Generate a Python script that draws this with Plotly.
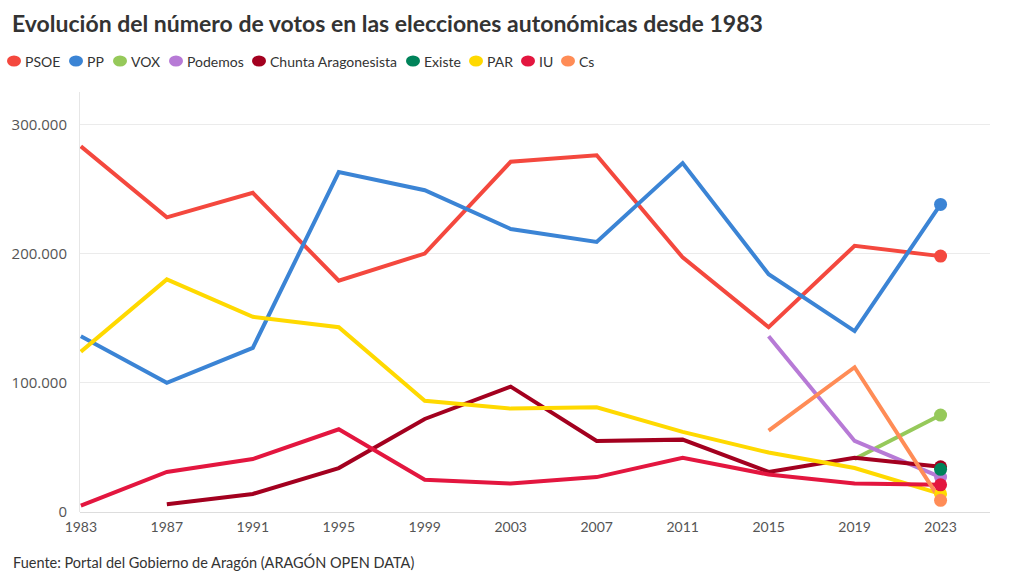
import plotly.graph_objects as go

years = [1983, 1987, 1991, 1995, 1999, 2003, 2007, 2011, 2015, 2019, 2023]

psoe = [283000, 228000, 247000, 179000, 200000, 271000, 276000, 197000, 143000, 206000, 198000]
pp = [136000, 100000, 127000, 263000, 249000, 219000, 209000, 270000, 184000, 140000, 238000]
vox = [None, None, None, None, None, None, None, None, None, 41000, 75000]
podemos = [None, None, None, None, None, None, None, None, 136000, 55000, 27000]
chunta = [None, 6000, 14000, 34000, 72000, 97000, 55000, 56000, 31000, 42000, 35000]
existe = [None, None, None, None, None, None, None, None, None, None, 33000]
par = [124000, 180000, 151000, 143000, 86000, 80000, 81000, 62000, 46000, 34000, 14000]
iu = [5000, 31000, 41000, 64000, 25000, 22000, 27000, 42000, 29000, 22000, 21000]
cs = [None, None, None, None, None, None, None, None, 63000, 112000, 9000]

names = ["PSOE", "PP", "VOX", "Podemos", "Chunta Aragonesista", "Existe", "PAR", "IU", "Cs"]
values = [psoe, pp, vox, podemos, chunta, existe, par, iu, cs]
colors = ["#f4483e", "#3b84d5", "#96c95a", "#b77ad6", "#a3001f", "#00835a", "#ffd900", "#e3163f", "#ff8c56"]

tick_vals = [0, 100000, 200000, 300000]

W, H = 1020, 581
ML, MR, MT, MB = 80, 30, 92, 69
PW, PH = W - ML - MR, H - MT - MB


def px_x(px):
    return (px - ML) / PW


def px_y(py):
    return (H - MB - py) / PH


fig = go.Figure()
for name, vals, color in zip(names, values, colors):
    fig.add_trace(go.Scatter(x=years, y=vals, mode="lines", name=name,
                             line=dict(color=color, width=4), showlegend=False))
for name, vals, color in zip(names, values, colors):
    fig.add_trace(go.Scatter(x=[years[-1]], y=[vals[-1]], mode="markers", name=name,
                             marker=dict(color=color, size=13), showlegend=False))

# manual legend (pill + label)
legend_circle_px = [7, 69, 113, 169, 252, 406, 469, 521, 561]
legend_y = px_y(61)
shapes = []
annotations = []
for name, color, cx in zip(names, colors, legend_circle_px):
    shapes.append(dict(type="circle", xref="paper", yref="paper",
                       xsizemode="pixel", ysizemode="pixel",
                       xanchor=px_x(cx), yanchor=legend_y,
                       x0=0, x1=14, y0=-5.5, y1=5.5,
                       fillcolor=color, line=dict(width=0)))
    annotations.append(dict(text=name, xref="paper", yref="paper",
                            x=px_x(cx + 16), y=legend_y, xanchor="left", yanchor="middle",
                            showarrow=False, font=dict(size=14, color="#333333")))

annotations.append(dict(text="Fuente: Portal del Gobierno de Aragón (ARAGÓN OPEN DATA)",
                        xref="paper", yref="paper", x=px_x(11), y=px_y(562), xanchor="left",
                        yanchor="middle", showarrow=False,
                        font=dict(size=14.5, color="#333333")))

fig.update_layout(
    width=W, height=H,
    paper_bgcolor="white", plot_bgcolor="white",
    separators=",.",
    showlegend=False,
    font=dict(family="Lato, sans-serif", color="#333333"),
    margin=dict(l=ML, r=MR, t=MT, b=MB),
    title=dict(text="<b>Evolución del número de votos en las elecciones autonómicas desde 1983</b>",
               x=12 / W, xanchor="left", y=1 - 24 / H, yanchor="middle",
               font=dict(size=23, color="#333333", family="Lato, sans-serif")),
    xaxis=dict(range=[1982.96, 2025.3], tickvals=years, showgrid=False,
               showline=False, zeroline=False, ticks="", ticklabelstandoff=5,
               tickfont=dict(size=14, color="#555555")),
    yaxis=dict(range=[0, 325000], tickvals=tick_vals, tickformat=",", showgrid=True,
               gridcolor="#ebebeb",
               zeroline=True, zerolinecolor="#dddddd", zerolinewidth=1, ticks="",
               showline=True, linecolor="#e6e6e6", linewidth=1, ticklabelstandoff=9,
               tickfont=dict(size=15, color="#555555", family="Open Sans, sans-serif")),
    shapes=shapes,
    annotations=annotations,
)

fig.write_html("out.html")
